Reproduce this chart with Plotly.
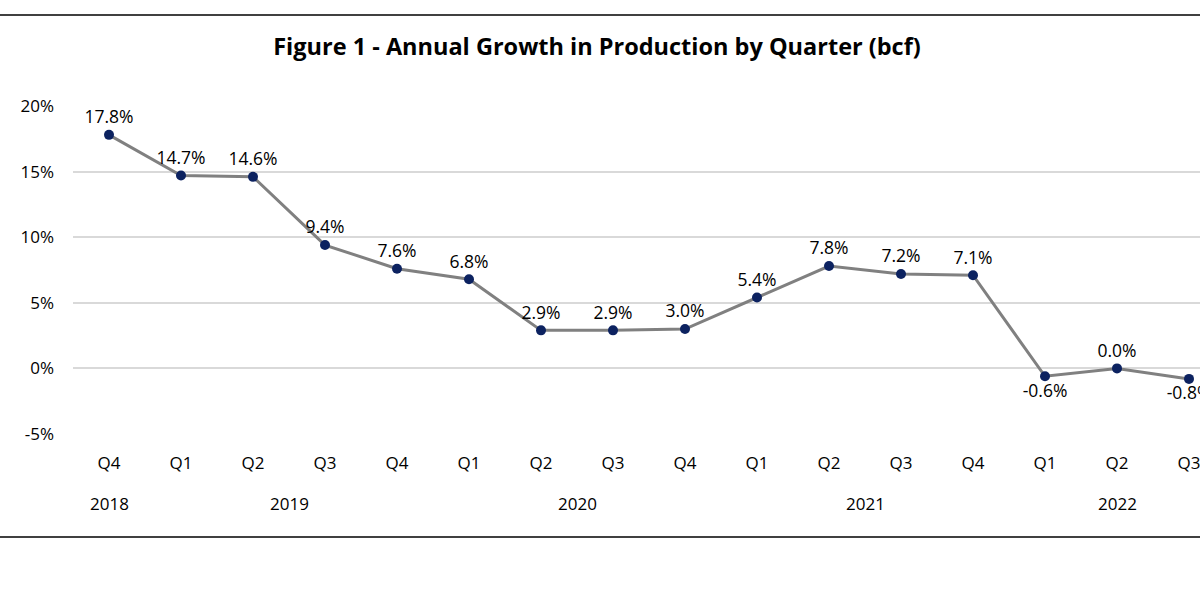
import plotly.graph_objects as go

years = ["2018", "2019", "2019", "2019", "2019", "2020", "2020", "2020", "2020",
         "2021", "2021", "2021", "2021", "2022", "2022", "2022"]
quarters = ["Q4", "Q1", "Q2", "Q3", "Q4", "Q1", "Q2", "Q3", "Q4",
            "Q1", "Q2", "Q3", "Q4", "Q1", "Q2", "Q3"]
growth = [17.8, 14.7, 14.6, 9.4, 7.6, 6.8, 2.9, 2.9, 3.0,
          5.4, 7.8, 7.2, 7.1, -0.6, 0.0, -0.8]
y_ticks = [-5, 0, 5, 10, 15, 20]

n = len(growth)
idx = list(range(n))
labels = [f"{v:.1f}%" for v in growth]
positions = ["bottom center" if v < 0 else "top center" for v in growth]

W, H = 1200, 608
L, R, T, B = 73, 0, 106, 174
pw = W - L - R
ph = H - T - B
step = 72

FONT = "Open Sans"

fig = go.Figure()
fig.add_trace(go.Scatter(
    x=idx, y=growth,
    mode="lines+markers+text",
    line=dict(color="#808080", width=3),
    marker=dict(color="#0c2260", size=10),
    text=labels, textposition=positions,
    textfont=dict(family=FONT, size=17.5, color="#000000"),
    cliponaxis=False, hoverinfo="skip",
))

fig.update_layout(
    width=W, height=H,
    margin=dict(l=L, r=R, t=T, b=B),
    paper_bgcolor="white", plot_bgcolor="white",
    showlegend=False,
    title=dict(text="<b>Figure 1 - Annual Growth in Production by Quarter (bcf)</b>",
               x=597 / W, xanchor="center", xref="container",
               y=1 - 47 / H, yanchor="middle", yref="container",
               font=dict(family=FONT, size=23.5, color="#000000")),
    font=dict(family=FONT, size=17, color="#000000"),
)
fig.update_xaxes(
    tickmode="array", tickvals=idx, ticktext=quarters,
    showgrid=False, showline=False, zeroline=False, ticks="",
    range=[-0.5, -0.5 + pw / step], ticklabelstandoff=17,
    ticklabeloverflow="allow",
    tickfont=dict(family=FONT, size=17, color="#000000"),
)
fig.update_yaxes(
    range=[-5, 20], tickvals=y_ticks, ticktext=[f"{t}%" for t in y_ticks],
    showgrid=True, gridcolor="#d9d9d9", gridwidth=1.5, zeroline=False,
    showline=False, ticks="", ticklabelstandoff=18,
    tickfont=dict(family=FONT, size=17, color="#000000"),
)

# year group labels centred under their quarters
seen = []
for yv in years:
    if yv not in seen:
        seen.append(yv)
for yv in seen:
    members = [i for i, v in enumerate(years) if v == yv]
    fig.add_annotation(x=sum(members) / len(members), xref="x",
                       y=-69 / ph, yref="paper", yanchor="middle",
                       text=yv, showarrow=False,
                       font=dict(family=FONT, size=17, color="#000000"))

for ypx in (15, 537):
    fig.add_shape(type="line", xref="paper", yref="paper",
                  x0=-L / pw, x1=1.0, y0=(H - B - ypx) / ph, y1=(H - B - ypx) / ph,
                  line=dict(color="#404040", width=2))

fig.write_html("out.html", config={"displayModeBar": False},
               post_script="document.body.style.margin='0';document.body.style.overflow='hidden';")
